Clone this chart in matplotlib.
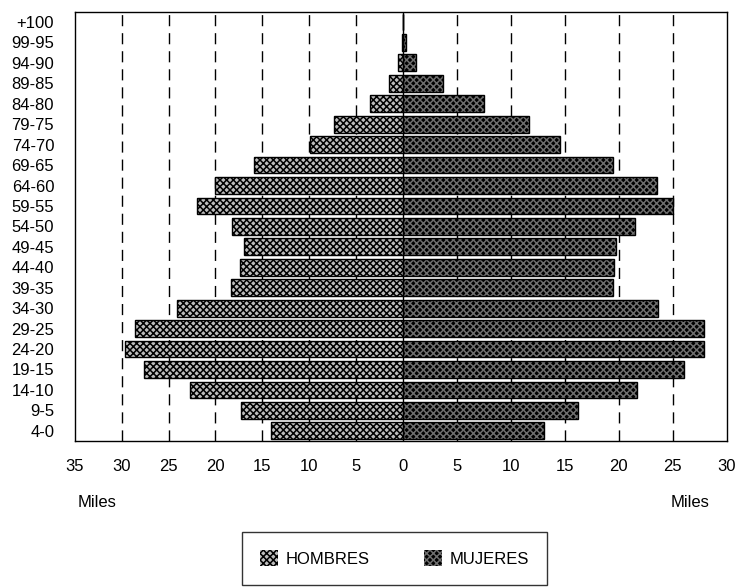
import numpy as np
import matplotlib
matplotlib.use("Agg")
import matplotlib.pyplot as plt
from matplotlib.patches import Patch

plt.rcParams['font.family'] = ['Liberation Sans', 'DejaVu Sans']
plt.rcParams['hatch.linewidth'] = 1.1

# age groups, top to bottom as in the chart
grupos = ["+100", "99-95", "94-90", "89-85", "84-80", "79-75", "74-70",
          "69-65", "64-60", "59-55", "54-50", "49-45", "44-40", "39-35",
          "34-30", "29-25", "24-20", "19-15", "14-10", "9-5", "4-0"]
# thousands of people
hombres = [0.0, 0.1, 0.5, 1.5, 3.5, 7.3, 9.9,
           15.9, 20.0, 22.0, 18.2, 16.9, 17.4, 18.3,
           24.1, 28.6, 29.7, 27.6, 22.7, 17.3, 14.1]
mujeres = [0.0, 0.3, 1.2, 3.7, 7.5, 11.7, 14.6,
           19.5, 23.5, 25.0, 21.5, 19.7, 19.6, 19.5,
           23.6, 27.9, 27.9, 26.0, 21.7, 16.2, 13.1]
xticks = [-35, -30, -25, -20, -15, -10, -5, 0, 5, 10, 15, 20, 25, 30]

# the scanned chart uses a slightly different scale on each side of zero
k_left, k_right = 9.35, 10.8


def fwd(x):
    x = np.asarray(x, dtype=float)
    return np.where(x < 0, x * k_left, x * k_right)


def inv(y):
    y = np.asarray(y, dtype=float)
    return np.where(y < 0, y / k_left, y / k_right)


fig = plt.figure(figsize=(7.35, 5.88), dpi=100)
ax = fig.add_axes([0.102, 0.25, 0.887, 0.73])
ax.set_xscale('function', functions=(fwd, inv))

ypos = np.arange(len(grupos))[::-1]
h = 0.82

# grid: dashed every 5, solid at zero
for v in xticks[1:-1]:
    if v == 0:
        ax.axvline(0, color='black', lw=1.0, zorder=1)
    else:
        ax.axvline(v, color='black', lw=1.0, ls=(0, (8, 5)), zorder=1)

vals_h = -np.array(hombres)
vals_m = np.array(mujeres)

# male bars: gray checker, female bars: dark checker
m_face, m_hatch = '#bdbdbd', '#000000'
f_face, f_hatch = '#000000', '#6e6e6e'
ax.barh(ypos, vals_h, height=h, color=m_face, edgecolor='none', zorder=2)
ax.barh(ypos, vals_h, height=h, color='none', edgecolor=m_hatch,
        hatch='xxxxx', lw=0, zorder=3)
ax.barh(ypos, vals_h, height=h, color='none', edgecolor='black', lw=1.0, zorder=4)

ax.barh(ypos, vals_m, height=h, color=f_face, edgecolor='none', zorder=2)
ax.barh(ypos, vals_m, height=h, color='none', edgecolor=f_hatch,
        hatch='xxxxx', lw=0, zorder=3)
ax.barh(ypos, vals_m, height=h, color='none', edgecolor='black', lw=1.0, zorder=4)

ax.set_xlim(-35, 30)
ax.set_ylim(-0.5, len(grupos) - 0.5)
ax.set_xticks(xticks)
ax.set_xticklabels([str(abs(v)) for v in xticks], fontsize=12)
ax.set_yticks(ypos)
ax.set_yticklabels(grupos, fontsize=12)
ax.tick_params(axis='x', length=0, pad=13)
ax.tick_params(axis='y', length=0, pad=15)
for s in ax.spines.values():
    s.set_linewidth(1.0)
    s.set_color('black')

fig.text(0.106, 0.137, "Miles", fontsize=12)
fig.text(0.912, 0.137, "Miles", fontsize=12)

# legend
hm = Patch(facecolor=m_face, edgecolor=m_hatch, hatch='xxxxx', lw=0)
mj = Patch(facecolor=f_face, edgecolor=f_hatch, hatch='xxxxx', lw=0)
leg = fig.legend([hm, mj], ["HOMBRES", "MUJERES"], ncol=2,
                 loc='upper left', bbox_to_anchor=(0.329, 0.095),
                 frameon=True, fancybox=False, edgecolor='black',
                 fontsize=12, handlelength=1.1, handleheight=1.1,
                 columnspacing=3.3, borderpad=1.1, handletextpad=0.4,
                 borderaxespad=0)
leg.get_frame().set_linewidth(1.0)

fig.savefig("out.png", dpi=100)
